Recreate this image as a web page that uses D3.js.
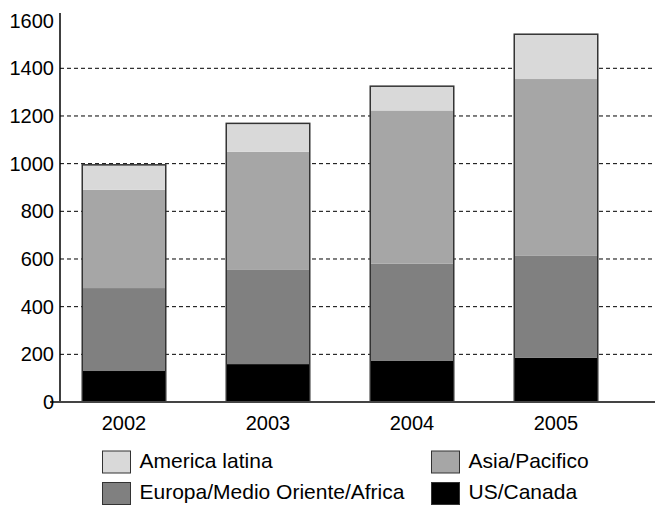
<!DOCTYPE html>
<html>
<head>
<meta charset="utf-8">
<script src="https://cdn.jsdelivr.net/npm/d3@7"></script>
<style>
  body { margin: 0; background: #fff; }
  text { font-family: "Liberation Sans", Arial, sans-serif; fill: #000; }
</style>
</head>
<body>
<svg width="657" height="505"></svg>
<script>
// data
const years = ["2002", "2003", "2004", "2005"]
const usCanada = [130, 159, 174, 185]
const europa = [348, 395, 407, 428]
const asia = [412, 496, 642, 742]
const americaLatina = [105, 119, 102, 188]
const yTicks = [0, 200, 400, 600, 800, 1000, 1200, 1400, 1600]

// stack order: bottom to top
const seriesNames = ["US/Canada", "Europa/Medio Oriente/Africa", "Asia/Pacifico", "America latina"]
const seriesColors = ["#000000", "#808080", "#a6a6a6", "#d9d9d9"]

const svg = d3.select("svg")

const table = years.map((y, i) => ({
    year: y,
    "US/Canada": usCanada[i],
    "Europa/Medio Oriente/Africa": europa[i],
    "Asia/Pacifico": asia[i],
    "America latina": americaLatina[i]
}))

const stacked = d3.stack().keys(seriesNames)(table)

const AXIS_X = 60
const RIGHT = 655

const x = d3.scaleBand()
    .domain(years)
    .range([52, 628])
const barW = x.bandwidth() * 0.58

const y = d3.scaleLinear()
    .domain([0, 1400])
    .range([402, 68.3])

// dashed grid lines
svg.append("g")
    .selectAll("line")
    .data(yTicks.filter(d => d > 0 && d < 1600))
    .enter().append("line")
    .attr("x1", AXIS_X)
    .attr("x2", RIGHT)
    .attr("y1", d => y(d))
    .attr("y2", d => y(d))
    .attr("stroke", "#000")
    .attr("stroke-width", 1)
    .attr("stroke-dasharray", "4,3")

// bars
svg.append("g")
    .selectAll("g")
    .data(stacked)
    .enter().append("g")
    .attr("fill", (d, i) => seriesColors[i])
    .selectAll("rect")
    .data(d => d)
    .enter().append("rect")
    .attr("x", d => x(d.data.year) + (x.bandwidth() - barW) / 2)
    .attr("width", barW)
    .attr("y", d => y(d[1]))
    .attr("height", d => y(d[0]) - y(d[1]))

// bar outlines
const totals = years.map((yr, i) => ({year: yr, total: usCanada[i] + europa[i] + asia[i] + americaLatina[i]}))
svg.append("g")
    .selectAll("rect")
    .data(totals)
    .enter().append("rect")
    .attr("x", d => x(d.year) + (x.bandwidth() - barW) / 2)
    .attr("width", barW)
    .attr("y", d => y(d.total))
    .attr("height", d => y(0) - y(d.total))
    .attr("fill", "none")
    .attr("stroke", "#333")
    .attr("stroke-width", 1.5)

// y axis line
svg.append("line")
    .attr("x1", AXIS_X).attr("x2", AXIS_X)
    .attr("y1", 13).attr("y2", y(0))
    .attr("stroke", "#000")
    .attr("stroke-width", 1.5)

// baseline
svg.append("line")
    .attr("x1", 50).attr("x2", RIGHT)
    .attr("y1", y(0)).attr("y2", y(0))
    .attr("stroke", "#444")
    .attr("stroke-width", 2)

// y labels
svg.append("g")
    .selectAll("text")
    .data(yTicks)
    .enter().append("text")
    .attr("x", 54)
    .attr("y", d => y(d))
    .attr("dy", "0.35em")
    .attr("text-anchor", "end")
    .attr("font-size", 20)
    .text(d => d)

// x labels
svg.append("g")
    .selectAll("text")
    .data(years)
    .enter().append("text")
    .attr("x", d => x(d) + x.bandwidth() / 2)
    .attr("y", 430)
    .attr("text-anchor", "middle")
    .attr("font-size", 20)
    .text(d => d)

// legend
const legendItems = [
    {name: "America latina", color: "#d9d9d9", lx: 102.5, ly: 451},
    {name: "Asia/Pacifico", color: "#a6a6a6", lx: 431.5, ly: 451},
    {name: "Europa/Medio Oriente/Africa", color: "#808080", lx: 102.5, ly: 482.5},
    {name: "US/Canada", color: "#000000", lx: 431.5, ly: 482.5}
]
const legend = svg.append("g")
    .selectAll("g")
    .data(legendItems)
    .enter().append("g")
    .attr("transform", d => `translate(${d.lx},${d.ly})`)
legend.append("rect")
    .attr("width", 28)
    .attr("height", 22)
    .attr("fill", d => d.color)
    .attr("stroke", "#333")
    .attr("stroke-width", 1)
legend.append("text")
    .attr("x", 37)
    .attr("y", 16.5)
    .attr("font-size", 21)
    .text(d => d.name)
</script>
</body>
</html>
